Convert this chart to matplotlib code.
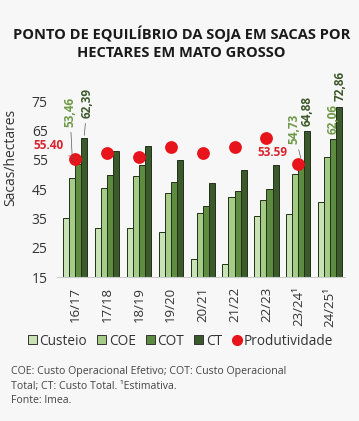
import numpy as np
import matplotlib.pyplot as plt
from matplotlib.patches import Patch
from matplotlib.lines import Line2D

plt.rcParams['font.family'] = ['Open Sans', 'DejaVu Sans']

# data
safras = ["16/17", "17/18", "18/19", "19/20", "20/21", "21/22", "22/23", "23/24¹", "24/25¹"]
custeio = [35.2, 31.7, 31.7, 30.4, 21.3, 19.4, 35.8, 36.5, 40.7]
coe = [48.8, 45.4, 49.6, 43.6, 36.7, 42.4, 41.3, 50.1, 56.0]
cot = [53.46, 49.9, 53.3, 47.5, 39.3, 44.2, 44.9, 54.73, 62.06]
ct = [62.39, 58.1, 59.8, 55.0, 47.1, 51.5, 53.3, 64.88, 72.86]
produtividade = [55.40, 57.2, 56.0, 59.2, 57.3, 59.5, 62.4, 53.59, np.nan]

series_names = ["Custeio", "COE", "COT", "CT"]
colors = ["#c9e2b6", "#a4cc87", "#5d8b40", "#3b5a2b"]
bg = "#f7f7f7"

fig = plt.figure(figsize=(3.59, 4.21), dpi=100, facecolor=bg)
ax = fig.add_axes([0.160, 0.342, 0.800, 0.4525], facecolor=bg)

x = np.arange(len(safras))
w = 0.19
for i, (vals, c) in enumerate(zip([custeio, coe, cot, ct], colors)):
    ax.bar(x + (i - 1.5) * w, np.array(vals) - 15, bottom=15, width=w,
           color=c, edgecolor="#22301a", linewidth=0.7, zorder=2)

ax.scatter(x, produtividade, s=85, color="#e8141b", zorder=3, linewidths=0)

ax.set_xlim(-0.55, 8.45)
ax.set_ylim(15, 80)
ax.set_yticks([15, 25, 35, 45, 55, 65, 75])
ax.set_xticks(x)
ax.set_xticklabels(safras, rotation=90, fontsize=9.5, color="#333333")
ax.tick_params(axis="y", length=0, labelsize=10, labelcolor="#333333", pad=7)
ax.tick_params(axis="x", length=0, pad=7)
for s in ["top", "right", "left"]:
    ax.spines[s].set_visible(False)
ax.spines["bottom"].set_color("#cccccc")
ax.spines["bottom"].set_linewidth(0.8)
ax.set_ylabel("Sacas/hectares", fontsize=10, color="#333333")
ax.yaxis.set_label_coords(-0.138, 0.627)

# value labels
cot_c, ct_c, red = "#6f9a48", "#3d5a2b", "#d9232e"
def lab(v):
    return f"{v:.2f}".replace(".", ",")

ax.annotate(lab(cot[0]), xy=(-0.5 * w + 0.02, cot[0]), xytext=(-0.16, 66.3),
            rotation=90, ha="center", va="bottom", fontsize=8.5, color=cot_c,
            fontweight="bold", arrowprops=dict(arrowstyle="-", color="#555555", lw=0.5))
ax.annotate(lab(ct[0]), xy=(1.5 * w, ct[0]), xytext=(0.38, 69.3),
            rotation=90, ha="center", va="bottom", fontsize=8.5, color=ct_c,
            fontweight="bold", arrowprops=dict(arrowstyle="-", color="#555555", lw=0.5))
ax.annotate(lab(cot[7]), xy=(7 + 0.5 * w, cot[7]), xytext=(6.85, 60.3),
            rotation=90, ha="center", va="bottom", fontsize=8.5, color=cot_c,
            fontweight="bold", arrowprops=dict(arrowstyle="-", color="#555555", lw=0.5))
ax.text(7 + 1.5 * w, ct[7] + 1.7, lab(ct[7]), rotation=90, ha="center", va="bottom",
        fontsize=8.5, color=ct_c, fontweight="bold")
ax.text(8 + 0.45 * w, cot[8] + 1.9, lab(cot[8]), rotation=90, ha="center", va="bottom",
        fontsize=8.5, color=cot_c, fontweight="bold")
ax.text(8 + 1.6 * w, ct[8] + 2.1, lab(ct[8]), rotation=90, ha="center", va="bottom",
        fontsize=8.5, color=ct_c, fontweight="bold")

ax.annotate(f"{produtividade[0]:.2f}", xy=(0, produtividade[0]), xytext=(-0.83, 59.8),
            ha="center", va="center", fontsize=8.5, color=red, fontweight="bold",
            annotation_clip=False,
            arrowprops=dict(arrowstyle="-", color=red, lw=0.5))
ax.annotate(f"{produtividade[7]:.2f}", xy=(7, produtividade[7]), xytext=(6.2, 57.5),
            ha="center", va="center", fontsize=8.5, color=red, fontweight="bold",
            arrowprops=dict(arrowstyle="-", color=red, lw=0.5))

fig.text(0.505, 0.898, "PONTO DE EQUILÍBRIO DA SOJA EM SACAS POR\nHECTARES EM MATO GROSSO",
         ha="center", va="center", fontsize=10.5, fontweight="bold", color="#1a1a1a",
         linespacing=1.35)

handles = [Patch(facecolor=c, edgecolor="#333333", linewidth=0.7, label=n)
           for c, n in zip(colors, series_names)]
handles.append(Line2D([], [], marker="o", linestyle="", color="#e8141b",
                      markersize=7, label="Produtividade"))
fig.legend(handles=handles, loc="center", bbox_to_anchor=(0.503, 0.19), ncol=5,
           frameon=False, fontsize=9.8, handlelength=0.65, handleheight=0.65,
           handletextpad=0.2, columnspacing=0.75, labelcolor="#333333")

fig.text(0.031, 0.083, "COE: Custo Operacional Efetivo; COT: Custo Operacional\n"
         "Total; CT: Custo Total. ¹Estimativa.\nFonte: Imea.",
         ha="left", va="center", fontsize=7.6, color="#444444", linespacing=1.45)

fig.savefig("out.png", dpi=100, facecolor=bg)
